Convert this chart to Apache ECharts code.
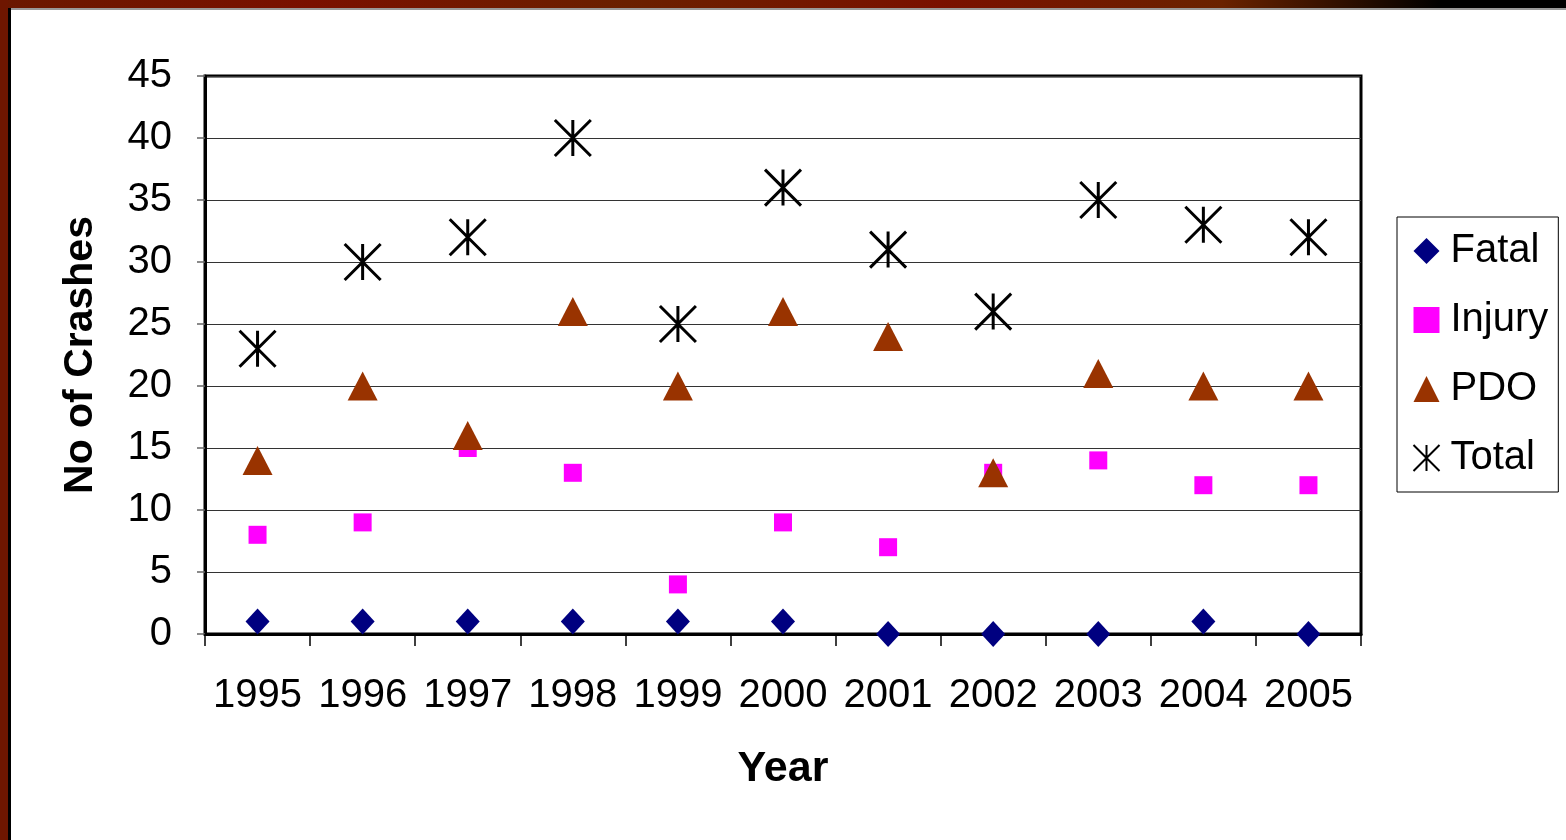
<!DOCTYPE html>
<html>
<head>
<meta charset="utf-8">
<script src="https://cdn.jsdelivr.net/npm/echarts@6/dist/echarts.min.js"></script>
<style>
html,body{margin:0;padding:0;background:#fff;}
#wrap{position:relative;width:1566px;height:840px;overflow:hidden;}
#chart{position:absolute;left:0;top:0;width:1566px;height:840px;}
#topband{position:absolute;left:0;top:0;width:1566px;height:8px;background:linear-gradient(to right,#6a1800 0%,#7a1000 20%,#6a2000 40%,#7a1000 60%,#6a2200 78%,#000 92%,#000 100%);pointer-events:none;}
#topline{position:absolute;left:8px;top:8px;width:1558px;height:2px;background:#999;pointer-events:none;}
#leftband{position:absolute;left:0;top:0;width:8px;height:840px;background:#6e1600;pointer-events:none;}
#leftline{position:absolute;left:8px;top:8px;width:3px;height:832px;background:#000;pointer-events:none;}
</style>
</head>
<body>
<div id="wrap">
<div id="chart"></div>
<div id="topband"></div>
<div id="topline"></div>
<div id="leftband"></div>
<div id="leftline"></div>
</div>
<script>
const years = ['1995','1996','1997','1998','1999','2000','2001','2002','2003','2004','2005'];
const fatal = [1,1,1,1,1,1,0,0,0,1,0];
const injury = [8,9,15,13,4,9,7,13,14,12,12];
const pdo = [14,20,16,26,20,26,24,13,21,20,20];
const total = [23,30,32,40,25,36,31,26,35,33,32];
const yTicks = [0,5,10,15,20,25,30,35,40,45];

const FONT = '"Liberation Sans", Arial, sans-serif';
const star = 'path://M5,0 L5,10 M0,0 L10,10 M0,10 L10,0';

const chart = echarts.init(document.getElementById('chart'), null, {renderer:'canvas'});
chart.setOption({
  backgroundColor:'#fff',
  animation:false,
  textStyle:{fontFamily:FONT,color:'#000'},
  grid:{left:205,top:76,right:205,bottom:206,show:true,borderColor:'#000',borderWidth:3,backgroundColor:'transparent'},
  legend:{
    orient:'vertical',left:1397,top:217,
    borderColor:'#000',borderWidth:1,
    padding:[14,10,14,14],
    itemGap:29,itemWidth:26,itemHeight:26,
    textStyle:{fontSize:40,fontFamily:FONT,color:'#000',padding:[0,0,0,6]},
    data:['Fatal','Injury','PDO','Total']
  },
  xAxis:{
    type:'category',data:years,boundaryGap:true,
    name:'Year',nameLocation:'middle',nameGap:114,
    nameTextStyle:{fontSize:43,fontWeight:'bold',color:'#000',fontFamily:FONT},
    axisLine:{show:true,lineStyle:{color:'#000',width:3}},
    axisTick:{show:true,interval:0,length:12,inside:false,lineStyle:{color:'#000',width:1.5}},
    axisLabel:{fontSize:40,color:'#000',margin:42,interval:0,fontFamily:FONT},
    splitLine:{show:false}
  },
  yAxis:{
    type:'value',min:yTicks[0],max:yTicks[yTicks.length-1],interval:5,
    name:'No of Crashes',nameLocation:'middle',nameGap:104,nameRotate:90,
    nameTextStyle:{fontSize:41,fontWeight:'bold',color:'#000',fontFamily:FONT},
    axisLine:{show:true,lineStyle:{color:'#000',width:3}},
    axisTick:{show:true,length:8,lineStyle:{color:'#666',width:1.5}},
    axisLabel:{fontSize:40,color:'#000',margin:33,fontFamily:FONT},
    splitLine:{show:true,lineStyle:{color:'#333',width:1}}
  },
  series:[
    {name:'Fatal',type:'scatter',data:fatal,symbol:'diamond',symbolSize:[24,26],itemStyle:{color:'#000080',opacity:1},z:3},
    {name:'Injury',type:'scatter',data:injury,symbol:'rect',symbolSize:18,itemStyle:{color:'#ff00ff',opacity:1},z:4},
    {name:'PDO',type:'scatter',data:pdo,symbol:'triangle',symbolSize:[30,29],itemStyle:{color:'#993300',opacity:1},z:5},
    {name:'Total',type:'scatter',data:total,symbol:star,symbolSize:[36,36],symbolKeepAspect:false,itemStyle:{color:'none',borderColor:'#000',borderWidth:3,opacity:1},z:6}
  ]
});
</script>
</body>
</html>
